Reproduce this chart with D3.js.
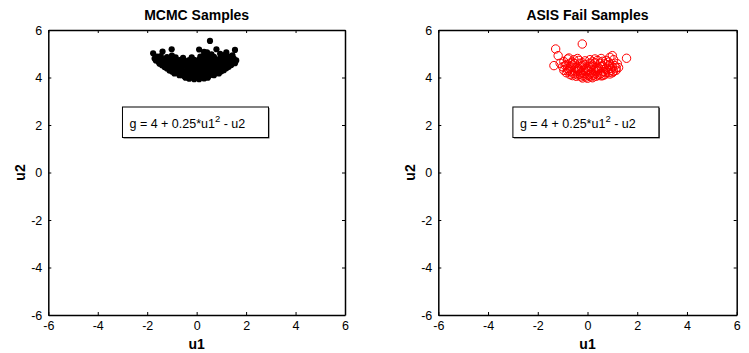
<!DOCTYPE html>
<html>
<head>
<meta charset="utf-8">
<script src="https://cdn.jsdelivr.net/npm/d3@7"></script>
<style>
  body { margin: 0; background: #fff; }
  text { font-family: "Liberation Sans", Arial, sans-serif; }
</style>
</head>
<body>
<svg id="chart" width="749" height="353"></svg>
<script>
const width = 749;
const height = 353;

const titles = ["MCMC Samples", "ASIS Fail Samples"];
const xTicks = [-6, -4, -2, 0, 2, 4, 6];
const yTicks = [-6, -4, -2, 0, 2, 4, 6];
const xLabel = "u1";
const yLabel = "u2";

// MCMC samples (u1, u2)
const mcmcSamples = [
  [-0.3, 3.95], [-0.1, 3.93], [0.1, 3.93], [0.3, 3.96], [-0.45, 3.99], [0.45, 3.99],
  [-0.7, 4.1], [-0.5, 4.05], [-0.3, 4.03], [-0.1, 4.02], [0.1, 4.03], [0.3, 4.04], [0.5, 4.07], [0.7, 4.1],
  [-0.9, 4.17], [-0.6, 4.1], [-0.4, 4.09], [0.0, 4.08], [0.4, 4.1], [0.6, 4.12], [0.9, 4.17],
  [-1.0, 4.25], [-0.8, 4.2], [-0.6, 4.18], [-0.4, 4.16], [-0.2, 4.15], [0.0, 4.14], [0.2, 4.15], [0.4, 4.17], [0.6, 4.19], [0.8, 4.22], [1.0, 4.26],
  [-1.1, 4.3], [-0.9, 4.27], [-0.7, 4.25], [-0.3, 4.23], [0.1, 4.22], [0.5, 4.24], [0.9, 4.28], [1.1, 4.31],
  [-1.2, 4.38], [-1.0, 4.36], [-0.8, 4.33], [-0.6, 4.32], [-0.4, 4.3], [-0.2, 4.3], [0.0, 4.29], [0.2, 4.3], [0.4, 4.31], [0.6, 4.33], [0.8, 4.34], [1.0, 4.36], [1.2, 4.39],
  [-1.3, 4.44], [-1.1, 4.42], [-0.7, 4.39], [-0.3, 4.38], [0.1, 4.37], [0.5, 4.38], [0.9, 4.41], [1.3, 4.45],
  [-1.4, 4.52], [-1.2, 4.5], [-1.0, 4.48], [-0.8, 4.47], [-0.6, 4.46], [-0.4, 4.45], [-0.2, 4.45], [0.0, 4.44], [0.2, 4.45], [0.4, 4.45], [0.6, 4.46], [0.8, 4.47], [1.0, 4.48], [1.2, 4.5], [1.4, 4.53],
  [-1.5, 4.58], [-1.1, 4.55], [-0.7, 4.53], [-0.3, 4.52], [0.1, 4.52], [0.5, 4.53], [0.9, 4.54], [1.3, 4.57], [1.55, 4.6],
  [-1.55, 4.66], [-1.35, 4.64], [-1.15, 4.62], [-0.95, 4.61], [-0.75, 4.6], [-0.55, 4.6], [-0.35, 4.59], [-0.15, 4.6], [0.05, 4.59], [0.25, 4.6], [0.45, 4.6], [0.65, 4.61], [0.85, 4.61], [1.05, 4.62], [1.25, 4.64], [1.45, 4.66],
  [-1.65, 4.72], [-1.2, 4.69], [-0.8, 4.67], [-0.4, 4.66], [0.0, 4.67], [0.4, 4.67], [0.8, 4.68], [1.2, 4.7], [1.6, 4.72],
  [-1.7, 4.8], [-1.5, 4.78], [-1.3, 4.76], [-1.1, 4.75], [-0.9, 4.74], [-0.7, 4.73], [-0.5, 4.72], [-0.3, 4.73], [-0.1, 4.74], [0.1, 4.75], [0.3, 4.74], [0.5, 4.76], [0.7, 4.75], [0.9, 4.77], [1.1, 4.76], [1.3, 4.78], [1.5, 4.8],
  [-1.6, 4.88], [-1.2, 4.86], [-0.85, 4.85], [-0.55, 4.83], [-0.2, 4.85], [0.15, 4.88], [0.45, 4.9], [0.7, 4.87], [1.0, 4.9], [1.35, 4.88],
  [-1.45, 4.9], [-1.0, 4.92], [0.3, 4.95], [0.6, 4.98], [1.15, 4.95], [1.45, 4.93],
  [-1.76, 5.02], [-1.38, 5.09], [-1.01, 5.19], [0.1, 5.18], [0.3, 5.08], [0.42, 5.06], [0.54, 5.54], [0.8, 5.19], [0.95, 5.0], [1.2, 5.06], [1.55, 5.16]
];

// ASIS fail samples (u1, u2)
const asisSamples = [
  [-0.21, 5.41], [-1.28, 5.2], [-1.18, 4.92], [-1.35, 4.5], [-0.95, 4.67], [1.57, 4.81], [1.0, 4.92], [1.05, 4.75],
  [-1.1, 4.6], [-0.75, 4.82], [-0.4, 4.8], [-0.1, 4.7], [0.1, 4.75], [0.4, 4.72], [0.9, 4.85],
  [-0.8, 4.78], [-0.55, 4.75], [-0.35, 4.72], [0.3, 4.78], [0.55, 4.8], [0.75, 4.72],
  [-1.0, 4.45], [-0.85, 4.55], [-0.7, 4.6], [-0.5, 4.58], [-0.3, 4.6], [-0.1, 4.55], [0.1, 4.6], [0.3, 4.62], [0.5, 4.6], [0.7, 4.58], [0.9, 4.55], [1.1, 4.5], [1.25, 4.42],
  [-0.9, 4.5], [-0.6, 4.52], [-0.2, 4.5], [0.2, 4.52], [0.6, 4.5], [1.0, 4.45], [1.2, 4.58],
  [-0.95, 4.3], [-0.8, 4.38], [-0.65, 4.45], [-0.45, 4.42], [-0.25, 4.45], [-0.05, 4.4], [0.15, 4.45], [0.35, 4.42], [0.55, 4.45], [0.75, 4.4], [0.95, 4.38], [1.15, 4.3],
  [-0.75, 4.32], [-0.4, 4.35], [0.0, 4.34], [0.4, 4.35], [0.8, 4.32], [1.05, 4.25],
  [-0.85, 4.2], [-0.7, 4.25], [-0.55, 4.3], [-0.35, 4.28], [-0.15, 4.3], [0.05, 4.28], [0.25, 4.3], [0.45, 4.28], [0.65, 4.25], [0.85, 4.22], [1.0, 4.2],
  [-0.6, 4.18], [-0.25, 4.2], [0.15, 4.2], [0.55, 4.18], [0.9, 4.15],
  [-0.7, 4.12], [-0.5, 4.15], [-0.3, 4.13], [-0.1, 4.15], [0.1, 4.12], [0.3, 4.15], [0.5, 4.13], [0.7, 4.12],
  [-0.45, 4.05], [-0.25, 4.03], [-0.05, 4.02], [0.15, 4.03], [0.35, 4.05], [0.55, 4.07],
  [-0.2, 3.98], [0.0, 3.97], [0.2, 3.99],
  [-0.6, 4.08], [-0.38, 4.1], [-0.18, 4.08], [0.02, 4.09], [0.22, 4.09], [0.42, 4.1], [0.62, 4.08],
  [-0.8, 4.28], [-0.48, 4.24], [-0.08, 4.24], [0.32, 4.24], [0.72, 4.2], [0.95, 4.3],
  [-0.7, 4.4], [-0.35, 4.38], [0.05, 4.46], [0.45, 4.4], [0.85, 4.48], [1.15, 4.4],
  [-0.6, 4.65], [-0.2, 4.62], [0.2, 4.66], [0.6, 4.68], [0.85, 4.65]
];

const panels = [
  { x0: 48.3, x1: 345, samples: mcmcSamples, color: "#000", filled: true },
  { x0: 438.3, x1: 736.7, samples: asisSamples, color: "#ff0000", filled: false }
];
const plotTop = 30;
const plotBottom = 315;

const svg = d3.select("#chart");
svg.append("rect").attr("width", width).attr("height", height).attr("fill", "#fff");

panels.forEach((p, i) => {
  const x = d3.scaleLinear().domain([-6, 6]).range([p.x0, p.x1]);
  const y = d3.scaleLinear().domain([-6, 6]).range([plotBottom, plotTop]);

  const g = svg.append("g");

  // samples
  if (p.filled) {
    g.selectAll("circle.pt").data(p.samples).join("circle")
      .attr("cx", d => x(d[0])).attr("cy", d => y(d[1]))
      .attr("r", 3.1).attr("fill", p.color);
  } else {
    g.selectAll("circle.pt").data(p.samples).join("circle")
      .attr("cx", d => x(d[0])).attr("cy", d => y(d[1]))
      .attr("r", 4.2).attr("fill", "none")
      .attr("stroke", p.color).attr("stroke-width", 1);
  }

  // axes: ticks inside, box on all sides
  const tickLen = 3;
  const fmt = d => String(d);
  const axB = d3.axisBottom(x).tickValues(xTicks).tickFormat(fmt).tickSizeInner(-tickLen).tickSizeOuter(0).tickPadding(6);
  const axT = d3.axisTop(x).tickValues(xTicks).tickSizeInner(-tickLen).tickSizeOuter(0).tickFormat("");
  const axL = d3.axisLeft(y).tickValues(yTicks).tickFormat(fmt).tickSizeInner(-tickLen).tickSizeOuter(0).tickPadding(6);
  const axR = d3.axisRight(y).tickValues(yTicks).tickSizeInner(-tickLen).tickSizeOuter(0).tickFormat("");

  const styleAxis = sel => {
    sel.selectAll("path").attr("stroke", "#000").attr("stroke-width", 1.5);
    sel.selectAll("line").attr("stroke", "#000");
    sel.selectAll("text").attr("fill", "#000").attr("font-size", 12.5)
      .attr("font-family", "Liberation Sans, Arial, sans-serif");
  };

  g.append("g").attr("transform", `translate(0,${plotBottom})`).call(axB).call(styleAxis);
  g.append("g").attr("transform", `translate(0,${plotTop})`).call(axT).call(styleAxis);
  g.append("g").attr("transform", `translate(${p.x0},0)`).call(axL).call(styleAxis);
  g.append("g").attr("transform", `translate(${p.x1},0)`).call(axR).call(styleAxis);

  // title and labels
  g.append("text").attr("x", (p.x0 + p.x1) / 2).attr("y", 20)
    .attr("text-anchor", "middle").attr("font-size", 14).attr("font-weight", "bold")
    .text(titles[i]);
  g.append("text").attr("x", (p.x0 + p.x1) / 2).attr("y", 349)
    .attr("text-anchor", "middle").attr("font-size", 14).attr("font-weight", "bold")
    .text(xLabel);
  g.append("text")
    .attr("transform", `translate(${p.x0 - 23},${(plotTop + plotBottom) / 2}) rotate(-90)`)
    .attr("text-anchor", "middle").attr("font-size", 14).attr("font-weight", "bold")
    .text(yLabel);

  // equation box
  const bx = x(-3.0), bw = 146, by = 107, bh = 30.5;
  g.append("rect").attr("x", bx + 1).attr("y", by + 1).attr("width", bw).attr("height", bh)
    .attr("fill", "#555");
  g.append("rect").attr("x", bx).attr("y", by).attr("width", bw).attr("height", bh)
    .attr("fill", "#fff").attr("stroke", "#000").attr("stroke-width", 1);
  const t = g.append("text").attr("x", bx + 7).attr("y", by + 21).attr("font-size", 12.5);
  t.append("tspan").text("g = 4 + 0.25*u1");
  t.append("tspan").attr("dy", -6).attr("font-size", 9.5).text("2");
  t.append("tspan").attr("dy", 6).text(" - u2");
});
</script>
</body>
</html>
